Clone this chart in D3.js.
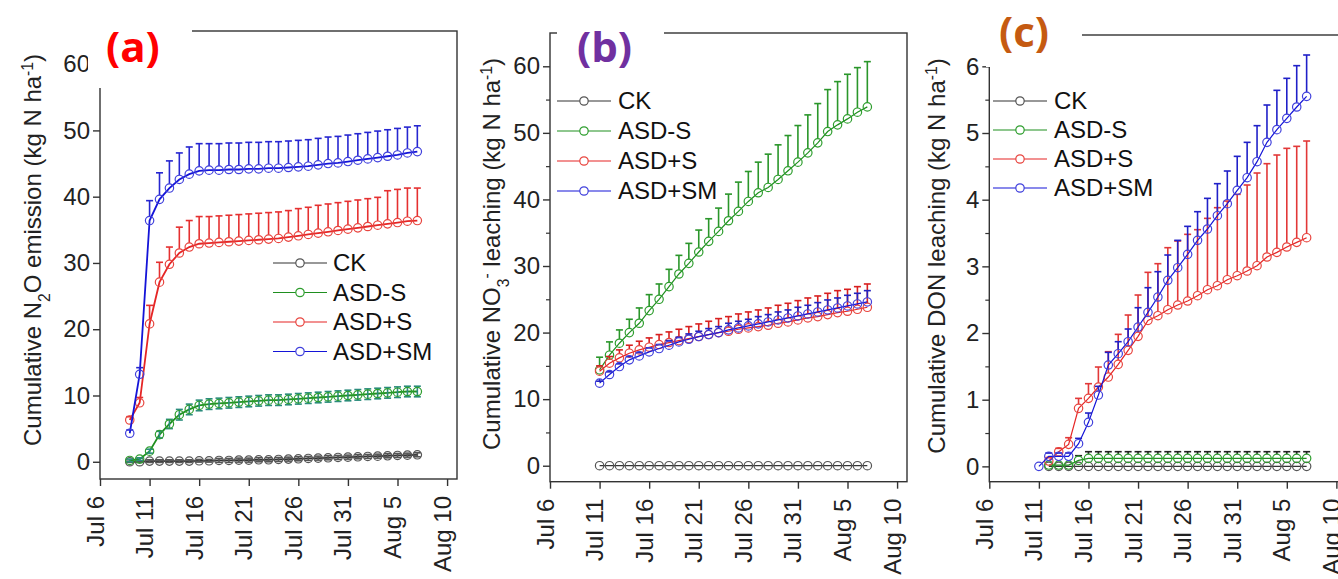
<!DOCTYPE html>
<html>
<head>
<meta charset="utf-8">
<script src="https://cdn.jsdelivr.net/npm/d3@7"></script>
<style>
  body { margin: 0; background: #fff; }
  svg { display: block; font-family: 'Liberation Sans', Arial, sans-serif; }
</style>
</head>
<body>
<div class="graph-container"></div>
<script>
// date axis, same for all three panels
var xDomain = ['2019-07-06', '2019-08-11'];
var xTickDates = ['2019-07-06', '2019-07-11', '2019-07-16', '2019-07-21', '2019-07-26', '2019-07-31', '2019-08-05', '2019-08-10'];
var xTickLabels = ['Jul 6', 'Jul 11', 'Jul 16', 'Jul 21', 'Jul 26', 'Jul 31', 'Aug 5', 'Aug 10'];
var seriesNames = ['CK', 'ASD-S', 'ASD+S', 'ASD+SM'];

// (a) N2O emission, daily from Jul 9
var startA = '2019-07-09';
var ckA = [0, 0, 0.1, 0.1, 0.1, 0.1, 0.1, 0.15, 0.15, 0.2, 0.2, 0.25, 0.25, 0.3, 0.3, 0.35, 0.4, 0.45, 0.5, 0.55, 0.6, 0.65, 0.7, 0.75, 0.8, 0.85, 0.9, 0.95, 1.0, 1.05];
var ckAErr = [0.1, 0.1, 0.2, 0.2, 0.2, 0.2, 0.2, 0.2, 0.2, 0.3, 0.3, 0.3, 0.3, 0.3, 0.3, 0.3, 0.3, 0.3, 0.3, 0.3, 0.3, 0.3, 0.3, 0.3, 0.3, 0.3, 0.3, 0.3, 0.3, 0.3];
var asdSA = [0.2, 0.4, 1.6, 4.1, 5.7, 7.1, 7.9, 8.5, 8.7, 8.8, 8.9, 9.0, 9.1, 9.2, 9.3, 9.3, 9.4, 9.5, 9.6, 9.7, 9.8, 9.9, 10.0, 10.1, 10.2, 10.3, 10.4, 10.5, 10.6, 10.6];
var asdSAErr = [0.2, 0.2, 0.3, 0.5, 0.7, 0.8, 0.8, 0.8, 0.8, 0.8, 0.8, 0.8, 0.8, 0.8, 0.8, 0.8, 0.8, 0.8, 0.8, 0.8, 0.8, 0.8, 0.8, 0.8, 0.8, 0.8, 0.8, 0.8, 0.8, 0.8];
var asdPlusSA = [6.3, 8.9, 20.8, 27.1, 29.8, 31.5, 32.4, 32.9, 33.0, 33.1, 33.2, 33.3, 33.4, 33.5, 33.6, 33.7, 33.9, 34.1, 34.3, 34.5, 34.7, 34.9, 35.1, 35.3, 35.5, 35.7, 35.9, 36.1, 36.3, 36.4];
var asdPlusSAErr = [0.5, 0.8, 2.8, 3.0, 2.6, 3.9, 4.0, 4.1, 4.0, 4.0, 4.0, 4.0, 4.0, 4.0, 4.0, 4.0, 4.0, 4.1, 4.1, 4.2, 4.2, 4.2, 4.2, 4.2, 4.2, 4.2, 5.0, 5.0, 5.0, 4.9];
var asdSMA = [4.3, 13.2, 36.4, 39.6, 41.3, 42.6, 43.4, 43.9, 44.0, 44.0, 44.1, 44.1, 44.2, 44.2, 44.3, 44.3, 44.4, 44.5, 44.6, 44.8, 45.0, 45.1, 45.3, 45.5, 45.7, 45.9, 46.1, 46.3, 46.6, 46.8];
var asdSMAErr = [0.5, 1.0, 3.0, 4.0, 4.1, 4.0, 4.1, 4.1, 4.0, 4.0, 4.0, 4.0, 4.0, 4.0, 4.0, 4.0, 4.0, 4.0, 4.0, 4.0, 4.0, 4.0, 4.0, 4.0, 4.0, 4.0, 4.0, 4.0, 3.9, 3.9];

// (b) NO3- leaching, daily from Jul 11
var startB = '2019-07-11';
var ckB = [0, 0, 0, 0, 0, 0, 0, 0, 0, 0, 0, 0, 0, 0, 0, 0, 0, 0, 0, 0, 0, 0, 0, 0, 0, 0, 0, 0];
var asdSB = [14.4, 16.6, 18.4, 20.0, 21.4, 23.3, 25.0, 26.9, 28.8, 30.4, 32.1, 33.7, 35.2, 36.8, 38.2, 39.7, 41.0, 41.8, 43.0, 44.3, 45.6, 47.0, 48.5, 50.2, 51.2, 52.1, 53.1, 53.9];
var asdSBErr = [1.9, 2.0, 2.0, 2.0, 2.3, 2.4, 2.3, 2.6, 2.8, 3.0, 3.3, 3.4, 3.5, 4.0, 4.4, 4.5, 4.6, 5.0, 5.2, 5.3, 5.5, 5.7, 5.9, 6.3, 6.5, 6.7, 6.7, 6.8];
var asdPlusSB = [14.2, 15.4, 16.2, 16.9, 17.4, 17.8, 18.2, 18.5, 18.8, 19.1, 19.4, 19.7, 20.0, 20.2, 20.5, 20.7, 20.9, 21.1, 21.4, 21.6, 21.9, 22.2, 22.4, 22.7, 23.0, 23.2, 23.5, 23.8];
var asdPlusSBErr = [0.8, 1.0, 1.2, 1.2, 1.3, 1.4, 1.5, 1.6, 1.7, 1.8, 1.9, 2.0, 2.1, 2.2, 2.3, 2.4, 2.5, 2.6, 2.7, 2.8, 2.9, 3.0, 3.1, 3.2, 3.3, 3.3, 3.4, 3.5];
var asdSMB = [12.4, 13.7, 14.9, 15.9, 16.5, 17.1, 17.6, 18.1, 18.6, 19.0, 19.4, 19.7, 20.0, 20.4, 20.7, 21.0, 21.3, 21.6, 21.9, 22.2, 22.5, 22.8, 23.1, 23.4, 23.7, 24.0, 24.3, 24.6];
var asdSMBErr = [0.3, 0.4, 0.4, 0.5, 0.5, 0.6, 0.6, 0.7, 0.7, 0.8, 0.8, 0.9, 0.9, 1.0, 1.0, 1.0, 1.1, 1.1, 1.2, 1.2, 1.3, 1.3, 1.4, 1.5, 1.5, 1.6, 1.6, 1.7];

// (c) DON leaching, daily from Jul 11 (null = no sample)
var startC = '2019-07-11';
var ckC = [null, 0, 0, 0, 0, 0, 0, 0, 0, 0, 0, 0, 0, 0, 0, 0, 0, 0, 0, 0, 0, 0, 0, 0, 0, 0, 0, 0];
var asdSC = [null, 0.02, 0.02, 0.02, 0.09, 0.12, 0.12, 0.12, 0.12, 0.12, 0.12, 0.12, 0.12, 0.12, 0.12, 0.12, 0.12, 0.12, 0.12, 0.12, 0.12, 0.12, 0.12, 0.12, 0.12, 0.12, 0.12, 0.12];
var asdSCErr = [0, 0, 0, 0, 0.07, 0.1, 0.1, 0.1, 0.1, 0.1, 0.1, 0.1, 0.1, 0.1, 0.1, 0.1, 0.1, 0.1, 0.1, 0.1, 0.1, 0.1, 0.1, 0.1, 0.1, 0.1, 0.1, 0.1];
var asdPlusSC = [null, 0.08, 0.22, 0.33, 0.87, 1.02, 1.19, 1.34, 1.53, 1.74, 1.95, 2.19, 2.26, 2.35, 2.42, 2.48, 2.56, 2.65, 2.71, 2.80, 2.86, 2.93, 3.01, 3.14, 3.21, 3.29, 3.36, 3.43];
var asdPlusSCErr = [0, 0.05, 0.05, 0.1, 0.15, 0.22, 0.3, 0.38, 0.45, 0.53, 0.62, 0.72, 0.78, 0.93, 0.96, 1.0, 0.99, 1.07, 1.17, 1.18, 1.22, 1.29, 1.39, 1.4, 1.46, 1.48, 1.44, 1.45];
var asdSMC = [0.0, 0.15, 0.15, 0.15, 0.34, 0.66, 1.07, 1.52, 1.69, 1.87, 2.09, 2.31, 2.54, 2.79, 2.98, 3.18, 3.39, 3.56, 3.76, 3.94, 4.14, 4.33, 4.57, 4.86, 5.05, 5.22, 5.39, 5.55];
var asdSMCErr = [0, 0.05, 0.05, 0.05, 0.08, 0.14, 0.13, 0.19, 0.18, 0.19, 0.29, 0.37, 0.38, 0.38, 0.41, 0.42, 0.43, 0.46, 0.48, 0.49, 0.51, 0.53, 0.54, 0.56, 0.59, 0.6, 0.62, 0.62];

var svgWidth = 1338;
var svgHeight = 579;
var circleRadius = 4.2;
var fontSize = 24;

var markerColors = { 'CK': '#555555', 'ASD-S': '#2e9e2e', 'ASD+S': '#e8453f', 'ASD+SM': '#4040dc' };
var lineColors = { 'CK': '#333333', 'ASD-S': '#1f8f1f', 'ASD+S': '#e52525', 'ASD+SM': '#1414d8' };

var parseDate = d3.timeParse('%Y-%m-%d');

function makePoints(start, values, errs) {
  var d0 = parseDate(start);
  return values.map(function(v, i) {
    return { date: d3.timeDay.offset(d0, i), value: v, err: errs ? errs[i] : 0 };
  }).filter(function(p) { return p.value !== null; });
}

var panels = [
  {
    x0: 100, x1: 457, y0: 31, y1: 479, yDomain: [-2.6, 65],
    yTicks: [0, 10, 20, 30, 40, 50, 60], yMinor: [],
    series: [
      { name: 'CK', points: makePoints(startA, ckA, ckAErr), errMode: 'both', errColor: '#555555' },
      { name: 'ASD-S', points: makePoints(startA, asdSA, asdSAErr), errMode: 'both', errColor: '#2a8c7c' },
      { name: 'ASD+S', points: makePoints(startA, asdPlusSA, asdPlusSAErr), errMode: 'up', errColor: '#e53030' },
      { name: 'ASD+SM', points: makePoints(startA, asdSMA, asdSMAErr), errMode: 'up', errColor: '#2626d0' }
    ],
    lineWidth: 1.8,
    title: { x: 41, y: 250, parts: [['Cumulative N'], ['2', 'sub'], ['O emission (kg N ha'], ['-1', 'super'], [')']] },
    legend: { x: 273, tx: 333, y: 263, step: 29.5 },
    cover: { x: 88, y: 0, w: 104, h: 88 },
    label: { text: '(a)', x: 106, y: 62, color: '#ff0000' }
  },
  {
    x0: 550, x1: 907, y0: 33, y1: 481.7, yDomain: [-2.4, 65],
    yTicks: [0, 10, 20, 30, 40, 50, 60], yMinor: [5, 15, 25, 35, 45, 55],
    series: [
      { name: 'CK', points: makePoints(startB, ckB, null), errMode: 'none', errColor: '#555555' },
      { name: 'ASD-S', points: makePoints(startB, asdSB, asdSBErr), errMode: 'up', errColor: '#2a962a' },
      { name: 'ASD+S', points: makePoints(startB, asdPlusSB, asdPlusSBErr), errMode: 'up', errColor: '#d81f1f' },
      { name: 'ASD+SM', points: makePoints(startB, asdSMB, asdSMBErr), errMode: 'up', errColor: '#2222c0' }
    ],
    lineWidth: 1.2,
    title: { x: 500, y: 254, parts: [['Cumulative NO'], ['3', 'sub'], ['-', 'super'], [' leaching (kg N ha'], ['-1', 'super'], [')']] },
    legend: { x: 557, tx: 618, y: 101, step: 30 },
    cover: { x: 557, y: 0, w: 107, h: 70 },
    label: { text: '(b)', x: 577, y: 62, color: '#7030a0' }
  },
  {
    x0: 989.3, x1: 1346.3, y0: 35, y1: 481.7, yDomain: [-0.23, 6.47],
    yTicks: [0, 1, 2, 3, 4, 5, 6], yMinor: [0.5, 1.5, 2.5, 3.5, 4.5, 5.5],
    series: [
      { name: 'CK', points: makePoints(startC, ckC, null), errMode: 'none', errColor: '#333333' },
      { name: 'ASD-S', points: makePoints(startC, asdSC, asdSCErr), errMode: 'up', errColor: '#222222' },
      { name: 'ASD+S', points: makePoints(startC, asdPlusSC, asdPlusSCErr), errMode: 'up', errColor: '#e23838' },
      { name: 'ASD+SM', points: makePoints(startC, asdSMC, asdSMCErr), errMode: 'up', errColor: '#2020c8' }
    ],
    lineWidth: 1.2,
    title: { x: 945, y: 256, parts: [['Cumulative DON leaching (kg N ha'], ['-1', 'super'], [')']] },
    legend: { x: 993, tx: 1054, y: 101, step: 29 },
    cover: { x: 986, y: 0, w: 96, h: 67 },
    label: { text: '(c)', x: 999, y: 47, color: '#c55a11' }
  }
];

var svg = d3.select('.graph-container').append('svg')
  .attr('width', svgWidth)
  .attr('height', svgHeight);

panels.forEach(drawPanel);

function drawPanel(p) {
  var g = svg.append('g');

  var xScale = d3.scaleTime()
    .domain(xDomain.map(parseDate))
    .range([p.x0, p.x1]);

  var yScale = d3.scaleLinear()
    .domain(p.yDomain)
    .range([p.y1, p.y0]);

  // frame
  g.append('rect')
    .attr('x', p.x0)
    .attr('y', p.y0)
    .attr('width', p.x1 - p.x0)
    .attr('height', p.y1 - p.y0)
    .attr('fill', 'none')
    .attr('stroke', '#333')
    .attr('stroke-width', 1.4);

  // x axis with rotated date labels
  var xAxis = d3.axisBottom(xScale)
    .tickValues(xTickDates.map(parseDate))
    .tickFormat(function(d, i) { return xTickLabels[i]; })
    .tickSize(7)
    .tickSizeOuter(0);

  var xg = g.append('g')
    .attr('transform', 'translate(0,' + p.y1 + ')')
    .call(xAxis);
  xg.select('.domain').remove();
  xg.selectAll('line').attr('stroke', '#333').attr('stroke-width', 1.4);
  xg.selectAll('text')
    .attr('font-size', fontSize)
    .attr('fill', '#222')
    .attr('text-anchor', 'end')
    .attr('dy', null)
    .attr('x', 0)
    .attr('y', 3)
    .attr('transform', 'translate(0,17) rotate(-90)');
  xg.attr('font-family', null);

  // y axis, major and minor ticks
  var yAxis = d3.axisLeft(yScale)
    .tickValues(p.yTicks)
    .tickFormat(d3.format('~g'))
    .tickSize(7)
    .tickPadding(3)
    .tickSizeOuter(0);

  var yg = g.append('g')
    .attr('transform', 'translate(' + p.x0 + ',0)')
    .call(yAxis);
  yg.select('.domain').remove();
  yg.attr('font-family', null);
  yg.selectAll('line').attr('stroke', '#333').attr('stroke-width', 1.4);
  yg.selectAll('text')
    .attr('font-size', fontSize)
    .attr('fill', '#222');

  var yMinorAxis = d3.axisLeft(yScale)
    .tickValues(p.yMinor)
    .tickSize(4)
    .tickFormat('')
    .tickSizeOuter(0);

  var ymg = g.append('g')
    .attr('transform', 'translate(' + p.x0 + ',0)')
    .call(yMinorAxis);
  ymg.select('.domain').remove();
  ymg.selectAll('line').attr('stroke', '#333').attr('stroke-width', 1.2);

  // series: connecting lines, error bars, open circles
  var line = d3.line()
    .x(function(d) { return xScale(d.date); })
    .y(function(d) { return yScale(d.value); });

  p.series.forEach(function(s) {
    var sg = g.append('g');

    sg.append('path')
      .datum(s.points)
      .attr('d', line)
      .attr('fill', 'none')
      .attr('stroke', lineColors[s.name])
      .attr('stroke-width', p.lineWidth);

    if (s.errMode !== 'none') {
      var bars = s.points.filter(function(d) { return d.err > 0; });
      var eg = sg.append('g')
        .attr('stroke', s.errColor)
        .attr('stroke-width', 1.6);

      eg.selectAll('line.stem')
        .data(bars)
        .enter()
        .append('line')
        .attr('class', 'stem')
        .attr('x1', function(d) { return xScale(d.date); })
        .attr('x2', function(d) { return xScale(d.date); })
        .attr('y1', function(d) {
          return s.errMode === 'both' ? yScale(d.value - d.err) : yScale(d.value) - circleRadius;
        })
        .attr('y2', function(d) { return yScale(d.value + d.err); });

      eg.selectAll('line.cap-top')
        .data(bars)
        .enter()
        .append('line')
        .attr('class', 'cap-top')
        .attr('x1', function(d) { return xScale(d.date) - 3.5; })
        .attr('x2', function(d) { return xScale(d.date) + 3.5; })
        .attr('y1', function(d) { return yScale(d.value + d.err); })
        .attr('y2', function(d) { return yScale(d.value + d.err); });

      if (s.errMode === 'both') {
        eg.selectAll('line.cap-bottom')
          .data(bars)
          .enter()
          .append('line')
          .attr('class', 'cap-bottom')
          .attr('x1', function(d) { return xScale(d.date) - 3.5; })
          .attr('x2', function(d) { return xScale(d.date) + 3.5; })
          .attr('y1', function(d) { return yScale(d.value - d.err); })
          .attr('y2', function(d) { return yScale(d.value - d.err); });
      }
    }

    sg.selectAll('circle')
      .data(s.points)
      .enter()
      .append('circle')
      .attr('cx', function(d) { return xScale(d.date); })
      .attr('cy', function(d) { return yScale(d.value); })
      .attr('r', circleRadius)
      .attr('fill', 'none')
      .attr('stroke', markerColors[s.name])
      .attr('stroke-width', 1.2);
  });

  // y axis title, rotated, with sub/superscripts
  var title = g.append('text')
    .attr('transform', 'translate(' + p.title.x + ',' + p.title.y + ') rotate(-90)')
    .attr('text-anchor', 'middle')
    .attr('font-size', fontSize)
    .attr('fill', '#222');
  p.title.parts.forEach(function(part) {
    var t = title.append('tspan').text(part[0]);
    if (part[1]) {
      t.attr('font-size', fontSize * 0.65).attr('baseline-shift', part[1]);
    }
  });

  // legend
  var lg = g.append('g');
  seriesNames.forEach(function(name, i) {
    var ly = p.legend.y + i * p.legend.step;
    lg.append('line')
      .attr('x1', p.legend.x)
      .attr('x2', p.legend.x + 54)
      .attr('y1', ly)
      .attr('y2', ly)
      .attr('stroke', lineColors[name])
      .attr('stroke-width', 1.2);
    lg.append('circle')
      .attr('cx', p.legend.x + 27)
      .attr('cy', ly)
      .attr('r', circleRadius)
      .attr('fill', '#fff')
      .attr('stroke', markerColors[name])
      .attr('stroke-width', 1.2);
    lg.append('text')
      .attr('x', p.legend.tx)
      .attr('y', ly)
      .attr('dy', '0.35em')
      .attr('font-size', fontSize)
      .attr('fill', '#111')
      .text(name);
  });

  // white patch behind the panel letter
  g.append('rect')
    .attr('x', p.cover.x)
    .attr('y', p.cover.y)
    .attr('width', p.cover.w)
    .attr('height', p.cover.h)
    .attr('fill', '#fff');

  g.append('text')
    .attr('x', p.label.x)
    .attr('y', p.label.y)
    .attr('font-family', "'Open Sans', sans-serif")
    .attr('font-weight', 700)
    .attr('font-size', 42)
    .attr('fill', p.label.color)
    .text(p.label.text);
}
</script>
</body>
</html>
